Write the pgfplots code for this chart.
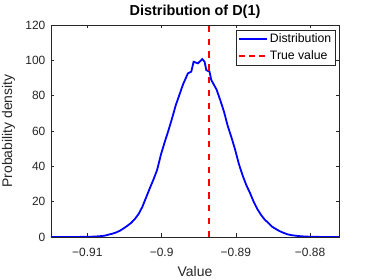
\documentclass[border=0pt]{standalone}
\usepackage{fontspec}
\setmainfont{Liberation Sans}
\usepackage{pgfplots}
\pgfplotsset{compat=1.18}
\definecolor{axgray}{rgb}{0.15,0.15,0.15}
\definecolor{mblue}{rgb}{0,0,1}
\definecolor{mred}{rgb}{1,0,0}
\begin{document}
\begin{tikzpicture}
\begin{axis}[
  scale only axis, width=288bp, height=212bp,
  xmin=-0.9149, xmax=-0.8761, ymin=0, ymax=120,
  xtick={-0.91,-0.9,-0.89,-0.88},
  xticklabels={−0.91,−0.9,−0.89,−0.88},
  ytick={0,20,40,60,80,100,120},
  yticklabels={0,20,40,60,80,100,120},
  tick align=inside, tick pos=both,
  major tick length=3.5bp,
  axis line style={draw=axgray, line width=0.5bp},
  tick style={draw=axgray, line width=0.5bp},
  ticklabel style={font=\fontsize{12}{14}\selectfont, text=axgray},
  xticklabel style={anchor=base, yshift=-19.7bp},
  yticklabel style={anchor=east, inner sep=0pt, xshift=-5.5bp},
  every axis title shift=0pt,
  title={Distribution of D(1)},
  title style={font=\fontsize{14.5}{17}\selectfont\bfseries, at={(0.5,1.0425)}, anchor=base, inner sep=0pt},
  xlabel={Value},
  xlabel style={font=\fontsize{14}{16}\selectfont, text=axgray, at={(0.5,-0.1873)}, anchor=base, inner sep=0pt},
  ylabel={Probability density},
  ylabel style={font=\fontsize{14}{16}\selectfont, text=axgray, at={(-0.1354,0.5)}, anchor=base, inner sep=0pt},
  legend style={font=\fontsize{12.3}{14}\selectfont, draw=axgray,
    at={(0.986,0.9786)}, anchor=north east, inner xsep=1.5bp, inner ysep=2bp,
    row sep=3bp},
  legend cell align=left,
  legend image code/.code={\draw[mark repeat=2,mark phase=2,#1] plot coordinates {(0bp,0bp) (14bp,0bp) (28bp,0bp)};},
]
\addplot[color=mblue, line width=1.8bp] coordinates {
(-0.9149,0) (-0.9131,0.01) (-0.9121,0.02) (-0.9111,0.05)
(-0.9101,0.10) (-0.9096,0.15) (-0.9091,0.24) (-0.9086,0.36) (-0.9081,0.54)
(-0.9076,0.81) (-0.9071,1.4) (-0.9066,1.9) (-0.9061,2.6) (-0.9056,3.6)
(-0.9051,4.9) (-0.9046,6.4) (-0.9041,8.0) (-0.9036,10.2) (-0.9031,13.0)
(-0.9026,17.0) (-0.9021,22.2) (-0.9016,27.5) (-0.9011,32.5) (-0.9006,38.0)
(-0.9001,46.5) (-0.8996,53.5) (-0.8991,60.0) (-0.8986,67.0) (-0.8981,74.5)
(-0.8976,80.5) (-0.8971,86.5) (-0.89646,92.6) (-0.8960,93.6) (-0.89569,99.2)
(-0.89511,98.3) (-0.89452,100.7) (-0.89421,99.2) (-0.89398,94.5) (-0.89354,93.6)
(-0.89331,88.9) (-0.8926,83.5) (-0.8921,77.5) (-0.8916,71.0) (-0.8911,63.0)
(-0.8906,56.5) (-0.8901,49.5) (-0.8896,41.5) (-0.8891,35.0) (-0.8886,29.5)
(-0.8881,25.0) (-0.8876,20.0) (-0.8871,15.8) (-0.8866,12.5) (-0.8861,9.8)
(-0.8856,7.9) (-0.8851,5.8) (-0.8846,4.5) (-0.8841,3.3) (-0.8836,2.4)
(-0.8831,1.6) (-0.8826,1.1) (-0.8821,0.82) (-0.8816,0.57) (-0.8811,0.38)
(-0.8806,0.26) (-0.8801,0.17) (-0.8791,0.07) (-0.8781,0.03) (-0.8771,0.01) (-0.8761,0)
};
\addlegendentry{Distribution}
\addplot[color=mred, line width=1.8bp, dash pattern=on 6.4bp off 6.4bp, forget plot] coordinates {(-0.8936,0) (-0.8936,120)};
\addlegendimage{color=mred, line width=1.8bp, dash pattern=on 5.5bp off 4.5bp}
\addlegendentry{True value}
\end{axis}
\pgfresetboundingbox
\path ([xshift=-51bp,yshift=-43bp]current axis.south west) rectangle ([xshift=35bp,yshift=25bp]current axis.north east);
\end{tikzpicture}
\end{document}
